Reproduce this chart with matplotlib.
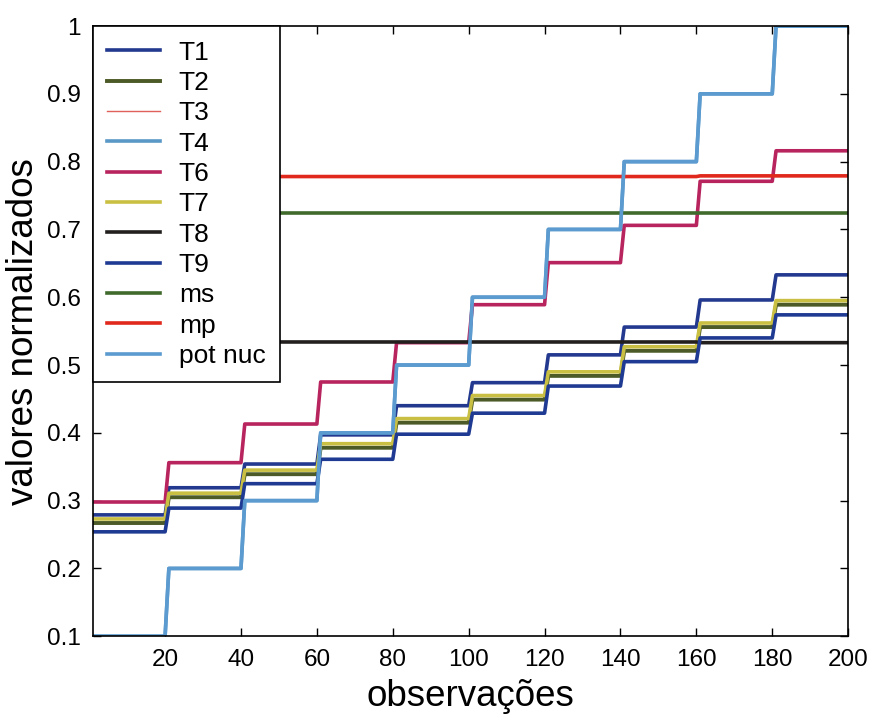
import numpy as np
import matplotlib
matplotlib.use("Agg")
import matplotlib.pyplot as plt

plt.rcParams['font.family'] = ['Liberation Sans', 'DejaVu Sans']

# ── Data: level of each series in each block of 20 observations ──
n_obs = 200
block = 20
obs = np.arange(1, n_obs + 1)

t1 = [0.279, 0.319, 0.354, 0.397, 0.440, 0.474, 0.515, 0.556, 0.596, 0.633]
t2 = [0.267, 0.305, 0.339, 0.378, 0.415, 0.449, 0.484, 0.521, 0.556, 0.589]
t3 = [0.778, 0.778, 0.778, 0.778, 0.778, 0.778, 0.778, 0.778, 0.779, 0.779]
t4 = [0.1, 0.2, 0.3, 0.4, 0.5, 0.6, 0.7, 0.8, 0.9, 1.0]
t6 = [0.298, 0.356, 0.413, 0.475, 0.533, 0.589, 0.651, 0.706, 0.771, 0.816]
t7 = [0.273, 0.311, 0.345, 0.384, 0.421, 0.455, 0.490, 0.527, 0.562, 0.595]
t8 = [0.534, 0.534, 0.534, 0.534, 0.534, 0.534, 0.534, 0.534, 0.533, 0.533]
t9 = [0.254, 0.289, 0.325, 0.361, 0.398, 0.429, 0.469, 0.505, 0.540, 0.574]
ms = [0.724, 0.724, 0.724, 0.724, 0.724, 0.724, 0.724, 0.724, 0.724, 0.724]
mp = [0.778, 0.778, 0.778, 0.778, 0.778, 0.778, 0.778, 0.778, 0.779, 0.779]
pot_nuc = [0.1, 0.2, 0.3, 0.4, 0.5, 0.6, 0.7, 0.8, 0.9, 1.0]

labels = ["T1", "T2", "T3", "T4", "T6", "T7", "T8", "T9", "ms", "mp", "pot nuc"]
series = [t1, t2, t3, t4, t6, t7, t8, t9, ms, mp, pot_nuc]
colors = ["#23398f", "#4b5a26", "#e0605a", "#5a98c8", "#b8245e", "#c9c043",
          "#231f1f", "#1f3a92", "#3f6a2c", "#e0281c", "#5b9bd0"]
widths = [2.6, 2.8, 1.0, 2.6, 2.6, 2.6, 2.6, 2.6, 2.6, 2.6, 2.6]

fig = plt.figure(figsize=(8.69, 7.23), dpi=100)
ax = fig.add_axes([0.107, 0.120, 0.869, 0.844])

for lab, lev, c, w in zip(labels, series, colors, widths):
    ax.plot(obs, np.repeat(lev, block), color=c, lw=w, label=lab)

ax.set_xlim(1, 200)
ax.set_ylim(0.1, 1.0)
ax.set_xticks(np.arange(20, 201, 20))
yt = np.round(np.arange(0.1, 1.01, 0.1), 1)
ax.set_yticks(yt)
ax.set_yticklabels([f"{v:g}" for v in yt])
ax.tick_params(direction='in', top=True, right=True, length=6, width=1,
               labelsize=17.5, pad=9)
for s in ax.spines.values():
    s.set_linewidth(1.2)

ax.set_xlabel("observações", fontsize=26.5, labelpad=6)
ax.set_ylabel("valores normalizados", fontsize=26.5, labelpad=4)

leg = ax.legend(loc='upper left', borderaxespad=0, fontsize=19, fancybox=False,
                edgecolor='black', framealpha=1, handlelength=2.0,
                handletextpad=0.7, labelspacing=0.24, borderpad=0.55)
leg.get_frame().set_linewidth(1.2)

fig.savefig("out.png", dpi=100, facecolor='white')
